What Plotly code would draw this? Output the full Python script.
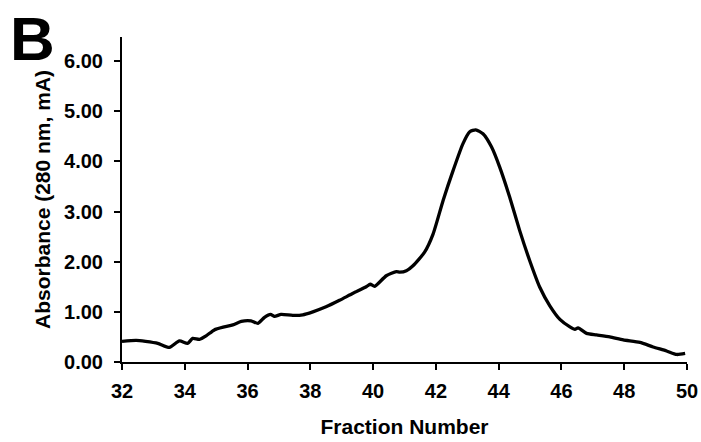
import plotly.graph_objects as go

fraction = [32.0, 32.45, 32.75, 33.14, 33.51, 33.83, 34.09, 34.25, 34.47, 34.68, 34.94,
            35.26, 35.53, 35.8, 36.11, 36.33, 36.54, 36.73, 36.86, 37.07, 37.44, 37.76,
            38.08, 38.5, 38.93, 39.36, 39.78, 39.91, 40.05, 40.42, 40.74, 40.85, 41.06,
            41.27, 41.64, 41.91, 42.23, 42.55, 42.86, 43.08, 43.27, 43.5, 43.77, 44.03,
            44.35, 44.67, 44.99, 45.31, 45.63, 45.95, 46.27, 46.43, 46.53, 46.8, 47.12,
            47.54, 47.97, 48.5, 48.92, 49.35, 49.67, 49.94]
absorbance = [0.41, 0.43, 0.41, 0.37, 0.29, 0.42, 0.37, 0.47, 0.45, 0.52, 0.64,
              0.70, 0.74, 0.81, 0.82, 0.77, 0.89, 0.95, 0.91, 0.95, 0.93, 0.94,
              1.00, 1.10, 1.23, 1.37, 1.50, 1.55, 1.51, 1.72, 1.80, 1.79, 1.82,
              1.92, 2.19, 2.55, 3.22, 3.82, 4.35, 4.59, 4.63, 4.55, 4.29, 3.89,
              3.29, 2.62, 2.02, 1.49, 1.12, 0.85, 0.70, 0.65, 0.68, 0.57, 0.54,
              0.50, 0.44, 0.39, 0.30, 0.22, 0.15, 0.17]

x_ticks = [32, 34, 36, 38, 40, 42, 44, 46, 48, 50]
y_ticks = [0, 1, 2, 3, 4, 5, 6]
y_labels = ["0.00", "1.00", "2.00", "3.00", "4.00", "5.00", "6.00"]

FONT = "Liberation Sans, Arial, sans-serif"
L, R, T, B = 122, 14, 37, 80
PW, PH = 701 - L - R, 442 - T - B

fig = go.Figure()
fig.add_trace(go.Scatter(
    x=fraction, y=absorbance, mode="lines",
    line=dict(color="black", width=3.3, shape="spline", smoothing=0.6),
    showlegend=False, hoverinfo="skip",
))

fig.update_layout(
    width=701, height=442,
    margin=dict(l=L, r=R, t=T, b=B, autoexpand=False),
    paper_bgcolor="white", plot_bgcolor="white",
    font=dict(family=FONT, color="black"),
    xaxis=dict(
        range=[32, 50], tickvals=x_ticks, ticktext=[str(v) for v in x_ticks],
        showline=True, linecolor="black", linewidth=2, showgrid=False, zeroline=False,
        ticks="outside", ticklen=6, tickwidth=2, tickcolor="black", automargin=False,
        ticklabelstandoff=4,
        tickfont=dict(family=FONT, size=20, color="black", weight="bold"),
        title=dict(text="<b>Fraction Number</b>", font=dict(family=FONT, size=21), standoff=18),
    ),
    yaxis=dict(
        range=[0, 6.48], tickvals=y_ticks, ticktext=y_labels,
        showline=True, linecolor="black", linewidth=2, showgrid=False, zeroline=False,
        ticks="outside", ticklen=6, tickwidth=2, tickcolor="black", automargin=False,
        ticklabelstandoff=7,
        tickfont=dict(family=FONT, size=20, color="black", weight="bold"),
        title=dict(text="<b>Absorbance (280 nm, mA)</b>", font=dict(family=FONT, size=21), standoff=8),
    ),
    annotations=[dict(
        text="<b>B</b>", xref="paper", yref="paper",
        x=(8 - L) / PW, y=1 + (T - 2) / PH,
        xanchor="left", yanchor="top", showarrow=False,
        font=dict(family=FONT, size=62, color="black"),
    )],
)

fig.write_html("out.html")
